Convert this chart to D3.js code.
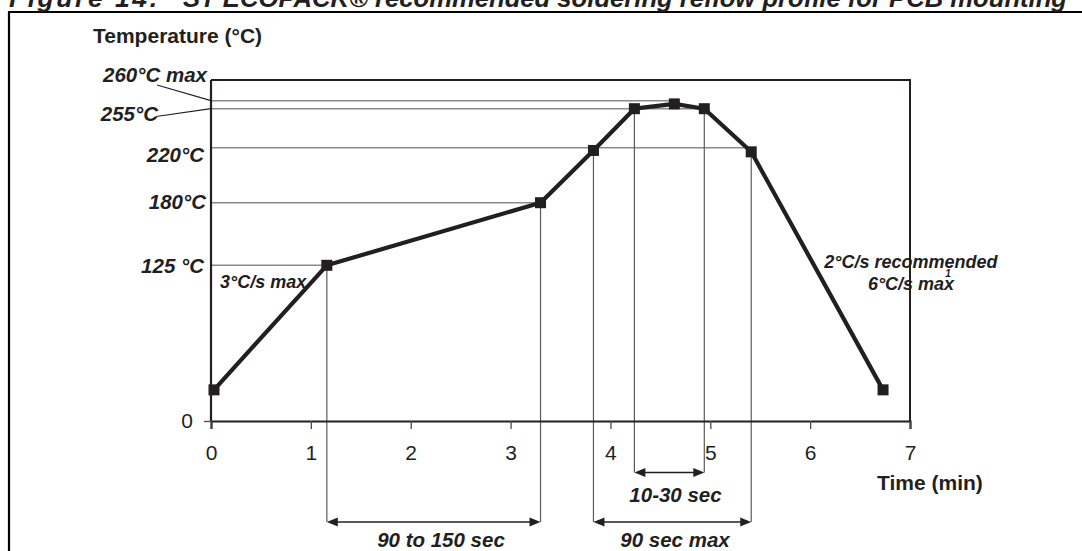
<!DOCTYPE html>
<html>
<head>
<meta charset="utf-8">
<script src="https://cdn.jsdelivr.net/npm/d3@7"></script>
<style>
  html, body { margin: 0; padding: 0; background: #fff; }
  svg { display: block; }
  text { font-family: "Liberation Sans", Arial, Helvetica, sans-serif; fill: #231f20; }
</style>
</head>
<body>
<svg id="chart" width="1082" height="551"></svg>
<script>
// ---------------- DATA ----------------
const titleNumber = "Figure 14.";
const titleText = "ST ECOPACK® recommended soldering reflow profile for PCB mounting";
const yAxisTitle = "Temperature (°C)";
const xAxisTitle = "Time (min)";

// reflow profile points (time in min, temperature in °C)
const times = [0.03, 1.16, 3.30, 3.83, 4.24, 4.64, 4.94, 5.41, 6.73];
const temps = [25, 125, 180, 218, 255, 258, 255, 217, 25];

const xTicks = [0, 1, 2, 3, 4, 5, 6, 7];
const yTicks = [0];

// temperature reference levels (schematic, non-uniform axis)
const tempLevels = [0, 125, 180, 220, 255, 260, 275];

const refTemps = [260, 255, 220, 180, 125];
const refLabels = ["260°C max", "255°C", "220°C", "180°C", "125 °C"];
const refEndTimes = [4.66, 4.94, 5.41, 3.30, 1.16];

// vertical guide lines (time, temperature where they start, bottom arrow row)
const guideTimes = [1.16, 3.30, 3.83, 5.41, 4.24, 4.94];
const guideTemps = [125, 180, 218, 217, 255, 255];
const guideRow = [1, 1, 1, 1, 0, 0];

// duration spans
const spanLabels = ["10-30 sec", "90 to 150 sec", "90 sec max"];
const spanStart = [4.24, 1.16, 3.83];
const spanEnd = [4.94, 3.30, 5.41];
const spanRow = [0, 1, 1];

const rampUpLabel = "3°C/s max";
const coolLabels = ["2°C/s recommended", "6°C/s max"];
const footnoteMark = "1";

// ---------------- LAYOUT ----------------
const svg = d3.select("#chart");
const ink = "#231f20";
const plotLeft = 211, plotRight = 910, plotBottom = 421;
const levelPixels = [421, 265.3, 202.7, 147.7, 108.7, 100.7, 80];

const x = d3.scaleLinear().domain([0, 7]).range([plotLeft, plotRight]);
const y = d3.scaleLinear().domain(tempLevels).range(levelPixels);

// outer page frame
svg.append("path")
  .attr("d", "M9,560 L9,12 L1090,12")
  .attr("fill", "none").attr("stroke", "#000").attr("stroke-width", 2.2);

// title (clipped at top)
svg.append("text").attr("x", 9).attr("y", 7)
  .attr("font-size", 26.5).attr("font-weight", "bold").attr("font-style", "italic")
  .attr("textLength", 148).attr("lengthAdjust", "spacing")
  .text(titleNumber);
svg.append("text").attr("x", 183).attr("y", 7)
  .attr("font-size", 26).attr("font-weight", "bold").attr("font-style", "italic")
  .attr("textLength", 884).attr("lengthAdjust", "spacingAndGlyphs")
  .text(titleText);

// axis titles
svg.append("text").attr("x", 93).attr("y", 43)
  .attr("font-size", 21).attr("font-weight", "bold").text(yAxisTitle);
svg.append("text").attr("x", 877).attr("y", 489.5)
  .attr("font-size", 21).attr("font-weight", "bold").text(xAxisTitle);

// horizontal reference lines
const g = svg.append("g");
refTemps.forEach((t, i) => {
  g.append("line")
    .attr("x1", x(0)).attr("x2", x(refEndTimes[i]))
    .attr("y1", y(t)).attr("y2", y(t))
    .attr("stroke", "#8a8a8a").attr("stroke-width", 1.4);
});

// arrow rows
const rowY = [472.5, 522];

// vertical guides
guideTimes.forEach((t, i) => {
  g.append("line")
    .attr("x1", x(t)).attr("x2", x(t))
    .attr("y1", y(guideTemps[i])).attr("y2", rowY[guideRow[i]])
    .attr("stroke", "#5a5a5a").attr("stroke-width", 1.2);
});

// plot frame: top and right
svg.append("path")
  .attr("d", `M${x(0)},${y(275)} L${x(7)},${y(275)} L${x(7)},${y(0)}`)
  .attr("fill", "none").attr("stroke", ink).attr("stroke-width", 2);

// x axis
const xAxis = d3.axisBottom(x).tickValues(xTicks).tickSize(8).tickPadding(16.5)
  .tickFormat(d3.format("d"));
const xg = svg.append("g").attr("transform", `translate(0,${plotBottom})`).call(xAxis);
xg.select(".domain").attr("stroke", ink).attr("stroke-width", 2.2);
xg.selectAll(".tick line").attr("stroke", "#4a4a4a").attr("stroke-width", 1.3);
xg.selectAll(".tick text").attr("font-size", 21).attr("font-family", "Liberation Sans, Arial, sans-serif").attr("fill", ink);

// y axis
const yAxis = d3.axisLeft(y).tickValues(yTicks).tickSize(7).tickPadding(11)
  .tickFormat(d3.format("d"));
const yg = svg.append("g").attr("transform", `translate(${plotLeft},0)`).call(yAxis);
yg.select(".domain").attr("d", `M0,${y(0)}V${y(275)}`).attr("stroke", ink).attr("stroke-width", 2.2);
yg.selectAll(".tick line").attr("stroke", "#4a4a4a").attr("stroke-width", 1.3);
yg.selectAll(".tick text").attr("font-size", 21).attr("font-family", "Liberation Sans, Arial, sans-serif").attr("fill", ink);

// temperature labels
const labelPos = [[207, 82], [158, 121], [204, 161.5], [206, 209], [204, 273]];
refLabels.forEach((lab, i) => {
  svg.append("text").attr("x", labelPos[i][0]).attr("y", labelPos[i][1])
    .attr("text-anchor", "end").attr("font-size", 20.5)
    .attr("font-weight", "bold").attr("font-style", "italic").text(lab);
});
// leader lines for 260 / 255
svg.append("line").attr("x1", 157).attr("y1", 85).attr("x2", x(0)).attr("y2", y(260))
  .attr("stroke", ink).attr("stroke-width", 1.2);
svg.append("line").attr("x1", 156).attr("y1", 116.5).attr("x2", x(0)).attr("y2", y(255))
  .attr("stroke", ink).attr("stroke-width", 1.2);

// profile curve
const pts = times.map((t, i) => [x(t), y(temps[i])]);
svg.append("path")
  .attr("d", d3.line()(pts))
  .attr("fill", "none").attr("stroke", ink).attr("stroke-width", 4.2)
  .attr("stroke-linejoin", "round");
svg.selectAll("rect.m").data(pts).enter().append("rect")
  .attr("class", "m")
  .attr("x", d => d[0] - 5.5).attr("y", d => d[1] - 5.5)
  .attr("width", 11).attr("height", 11).attr("fill", ink);

// arrows
function arrow(x1, x2, yy) {
  svg.append("line").attr("x1", x1 + 4).attr("x2", x2 - 4).attr("y1", yy).attr("y2", yy)
    .attr("stroke", ink).attr("stroke-width", 1.5);
  svg.append("path").attr("d", `M${x1},${yy} L${x1 + 11},${yy - 4.5} L${x1 + 11},${yy + 4.5} Z`).attr("fill", ink);
  svg.append("path").attr("d", `M${x2},${yy} L${x2 - 11},${yy - 4.5} L${x2 - 11},${yy + 4.5} Z`).attr("fill", ink);
}
const spanTextPos = [[675.5, 502], [441, 547], [675, 547]];
spanLabels.forEach((lab, i) => {
  arrow(x(spanStart[i]), x(spanEnd[i]), rowY[spanRow[i]]);
  svg.append("text").attr("x", spanTextPos[i][0]).attr("y", spanTextPos[i][1])
    .attr("text-anchor", "middle").attr("font-size", 20.5)
    .attr("font-weight", "bold").attr("font-style", "italic").text(lab);
});

// slope annotations
svg.append("text").attr("x", 220).attr("y", 288).attr("font-size", 18)
  .attr("font-weight", "bold").attr("font-style", "italic").text(rampUpLabel);
svg.append("text").attr("x", 911).attr("y", 268).attr("text-anchor", "middle").attr("font-size", 18)
  .attr("font-weight", "bold").attr("font-style", "italic").text(coolLabels[0]);
svg.append("text").attr("x", 911).attr("y", 290).attr("text-anchor", "middle").attr("font-size", 18)
  .attr("font-weight", "bold").attr("font-style", "italic").text(coolLabels[1]);
svg.append("text").attr("x", 948).attr("y", 277).attr("text-anchor", "middle").attr("font-size", 10)
  .attr("font-weight", "bold").attr("font-style", "italic").text(footnoteMark);
</script>
</body>
</html>
